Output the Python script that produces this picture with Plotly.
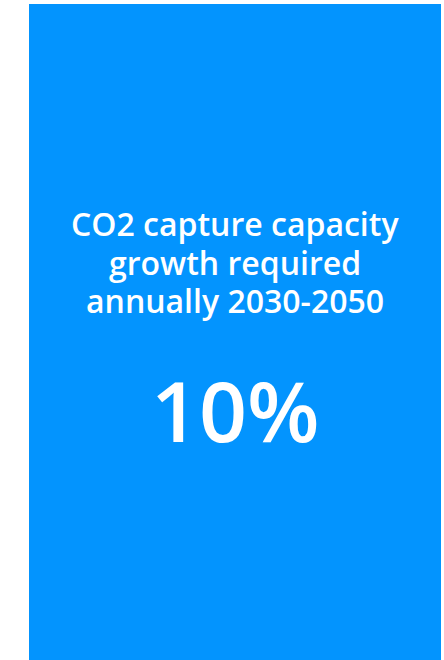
import plotly.graph_objects as go

# Data
title_lines = ["CO2 capture capacity", "growth required", "annually 2030-2050"]
metric_value = 10
metric_suffix = "%"

W, H = 444, 660
BLUE = "#0394FE"
FONT = "Open Sans"

fig = go.Figure()

# background card
fig.add_shape(type="rect", xref="paper", yref="paper",
              x0=29 / W, x1=441 / W, y0=0, y1=(H - 4) / H,
              fillcolor=BLUE, line=dict(width=0), layer="below")

cx = 235 / W
line_centers = [224, 262, 300]
for txt, yc in zip(title_lines, line_centers):
    fig.add_annotation(text=txt, x=cx, y=1 - yc / H, xref="paper", yref="paper",
                       xanchor="center", yanchor="middle", showarrow=False,
                       font=dict(family=FONT, size=32, color="white", weight=600))

fig.add_annotation(text=f"{metric_value}{metric_suffix}", x=cx, y=1 - 409 / H,
                   xref="paper", yref="paper", xanchor="center", yanchor="middle",
                   showarrow=False,
                   font=dict(family=FONT, size=84, color="white", weight=600))

fig.update_layout(width=W, height=H, margin=dict(l=0, r=0, t=0, b=0),
                  paper_bgcolor="white", plot_bgcolor="white",
                  xaxis=dict(visible=False), yaxis=dict(visible=False),
                  showlegend=False)

fig.write_html("out.html")
